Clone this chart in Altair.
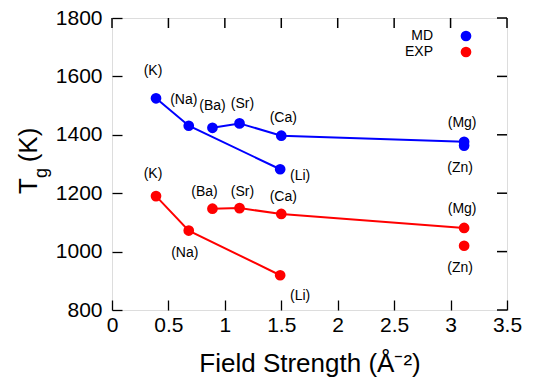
import altair as alt
import pandas as pd

# Cations, their field strength (Å^-2) and glass transition temperatures (K)
elements = ["K", "Na", "Li", "Ba", "Sr", "Ca", "Mg", "Zn"]
field_strength = [0.39, 0.68, 1.49, 0.89, 1.13, 1.50, 3.12, 3.12]
family = ["alkali", "alkali", "alkali", "alkaline earth", "alkaline earth",
          "alkaline earth", "alkaline earth", "transition"]
tg_md = [1525, 1431, 1282, 1424, 1439, 1397, 1376, 1363]
tg_exp = [1190, 1072, 919, 1147, 1149, 1129, 1081, 1020]

series_names = ["MD", "EXP"]
series_colors = ["#0000ff", "#ff0000"]

x_ticks = [0, 0.5, 1, 1.5, 2, 2.5, 3, 3.5]
y_ticks = [800, 1000, 1200, 1400, 1600, 1800]

rows = []
for name, values in zip(series_names, [tg_md, tg_exp]):
    for el, fs, fam, tg in zip(elements, field_strength, family, values):
        rows.append({"series": name, "element": el, "label": f"({el})",
                     "fs": fs, "family": fam, "tg": tg})
df = pd.DataFrame(rows)

# Pixel offsets of each cation label from its marker
label_offsets = {
    ("MD", "K"): (-3, -27), ("MD", "Na"): (-5, -26), ("MD", "Ba"): (0, -22),
    ("MD", "Sr"): (3, -19), ("MD", "Ca"): (2, -18), ("MD", "Mg"): (-2, -19),
    ("MD", "Zn"): (-4, 22), ("MD", "Li"): (20, 7),
    ("EXP", "K"): (-3, -22), ("EXP", "Na"): (-4, 22), ("EXP", "Ba"): (-8, -17),
    ("EXP", "Sr"): (3, -16), ("EXP", "Ca"): (2, -17), ("EXP", "Mg"): (-2, -19),
    ("EXP", "Zn"): (-4, 22), ("EXP", "Li"): (20, 21),
}

W, H = 395, 292
FONT = "Liberation Sans"
TICK = 10

x_scale = alt.Scale(domain=[0, 3.5], nice=False, zero=False)
y_scale = alt.Scale(domain=[800, 1800], nice=False, zero=False)
color_scale = alt.Scale(domain=series_names, range=series_colors)

# Axes are pulled inside the frame by one tick length so their ticks point inward
x_enc = alt.X("fs:Q", scale=x_scale,
              axis=alt.Axis(values=x_ticks, ticks=True, tickSize=TICK, tickWidth=1.3,
                            tickColor="black", offset=-TICK, domain=False, grid=False,
                            format="~g", labelFontSize=21, labelPadding=4,
                            labelFont=FONT, labelColor="black",
                            title="Field Strength (Å⁻²)",
                            titleFont=FONT, titleFontSize=26, titleFontWeight="normal",
                            titleColor="black", titlePadding=15, labelFlush=False))
y_enc = alt.Y("tg:Q", scale=y_scale,
              axis=alt.Axis(values=y_ticks, ticks=True, tickSize=TICK, tickWidth=1.3,
                            tickColor="black", offset=-TICK, domain=False, grid=False,
                            format="d", labelFontSize=21, labelPadding=10,
                            labelFont=FONT, labelColor="black", title=None,
                            labelFlush=False))
color_enc = alt.Color("series:N", scale=color_scale, legend=None)

base = alt.Chart(df)

lines = base.transform_filter(alt.datum.family != "transition").mark_line(
    strokeWidth=2
).encode(x=x_enc, y=y_enc, color=color_enc, detail="family:N", order="fs:Q")

points = base.mark_circle(size=115, opacity=1).encode(x=x_enc, y=y_enc, color=color_enc)

label_layers = []
for (series, el), (dx, dy) in label_offsets.items():
    label_layers.append(
        base.transform_filter(
            (alt.datum.series == series) & (alt.datum.element == el)
        ).mark_text(font=FONT, fontSize=14, color="black", align="center",
                    baseline="middle", dx=dx, dy=dy)
        .encode(x="fs:Q", y="tg:Q", text="label:N")
    )

# Inward-pointing ticks on the top and right sides of the frame
xt = pd.DataFrame({"v": x_ticks})
yt = pd.DataFrame({"v": y_ticks})
tick_style = dict(color="black", strokeWidth=1.5)
ticks = [
    alt.Chart(yt).mark_rule(**tick_style).encode(
        y=alt.Y("v:Q", scale=y_scale), x=alt.value(W - TICK), x2=alt.value(W)),
    alt.Chart(xt).mark_rule(**tick_style).encode(
        x=alt.X("v:Q", scale=x_scale), y=alt.value(0), y2=alt.value(TICK)),
]

# Legend: labels right-aligned, markers to their right
legend_layers = []
for i, (name, col) in enumerate(zip(series_names, series_colors)):
    ly = 18 + 16 * i
    legend_layers.append(
        alt.Chart(pd.DataFrame({"t": [name]})).mark_text(
            font=FONT, fontSize=14, color="black", align="right", baseline="middle"
        ).encode(text="t:N", x=alt.value(321), y=alt.value(ly)))
    legend_layers.append(
        alt.Chart(pd.DataFrame({"t": [name]})).mark_circle(
            size=115, opacity=1, color=col
        ).encode(x=alt.value(354), y=alt.value(ly)))

# Y axis title T_g (K) with subscript g
ytitle = [
    alt.Chart(pd.DataFrame({"t": ["T"]})).mark_text(
        font=FONT, fontSize=26, angle=270, align="center", baseline="middle",
        color="black").encode(text="t:N", x=alt.value(-83), y=alt.value(168)),
    alt.Chart(pd.DataFrame({"t": ["g"]})).mark_text(
        font=FONT, fontSize=18, angle=270, align="center", baseline="middle",
        color="black").encode(text="t:N", x=alt.value(-70), y=alt.value(155)),
    alt.Chart(pd.DataFrame({"t": ["(K)"]})).mark_text(
        font=FONT, fontSize=26, angle=270, align="center", baseline="middle",
        color="black").encode(text="t:N", x=alt.value(-83), y=alt.value(127)),
]

chart = alt.layer(
    lines, points, *label_layers, *ticks, *legend_layers, *ytitle
).properties(
    width=W, height=H,
    autosize=alt.AutoSizeParams(type="none"),
    padding={"left": 112, "top": 18, "right": 28, "bottom": 72},
).configure_view(stroke="black", strokeWidth=1.3).configure(background="white")

chart.save("out.html", embed_options={"renderer": "svg", "actions": False})
